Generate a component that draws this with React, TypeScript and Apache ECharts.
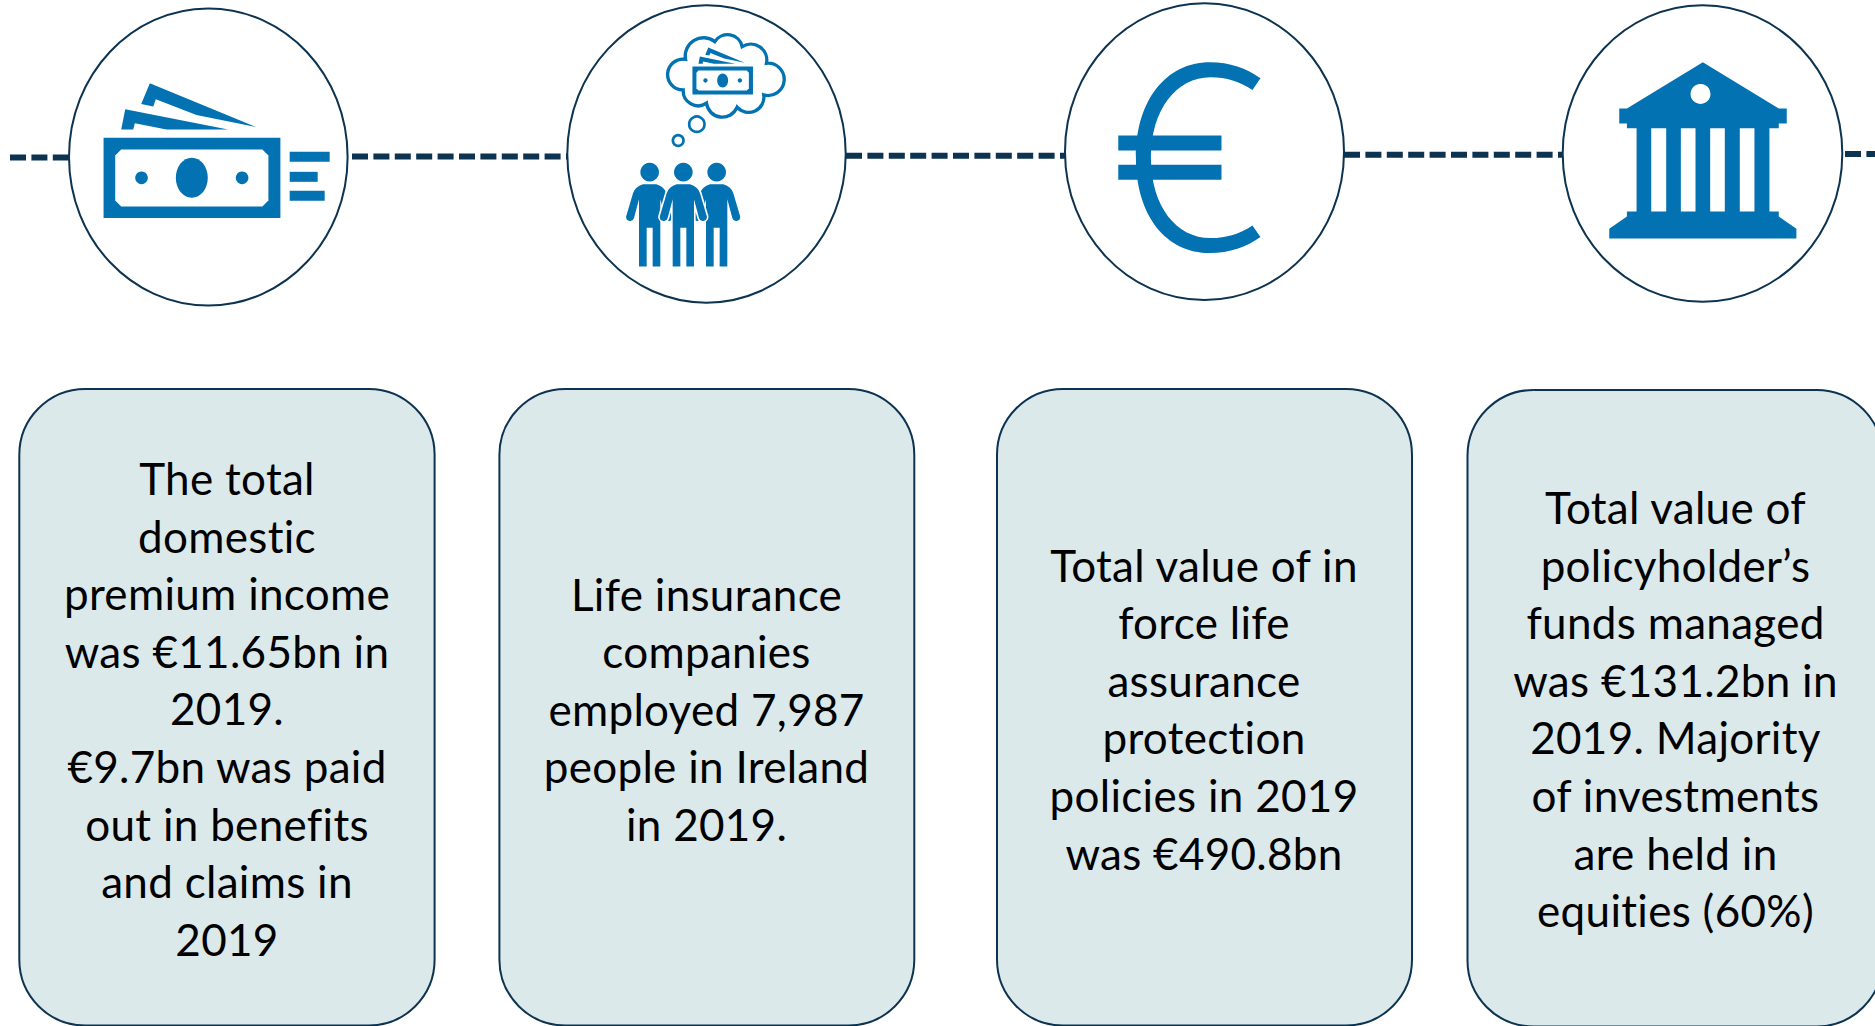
import React, { useEffect, useRef } from "react";
import * as echarts from "echarts";

const INK = "#0c3350";
const BLUE = "#0272b2";
const BOX = "#dce9eb";

const boxTexts = [
  ["The total", "domestic", "premium income", "was €11.65bn in", "2019.", "€9.7bn was paid", "out in benefits", "and claims in", "2019"],
  ["Life insurance", "companies", "employed 7,987", "people in Ireland", "in 2019."],
  ["Total value of in", "force life", "assurance", "protection", "policies in 2019", "was €490.8bn"],
  ["Total value of", "policyholder’s", "funds managed", "was €131.2bn in", "2019. Majority", "of investments", "are held in", "equities (60%)"],
];
const boxFrames = [
  { x: 19.3, y: 389, width: 415.3, height: 636.5, centerX: 227, firstLine: 478 },
  { x: 499.4, y: 389, width: 414.9, height: 636.5, centerX: 706.5, firstLine: 593.5 },
  { x: 997, y: 389, width: 415, height: 636.5, centerX: 1204, firstLine: 564.5 },
  { x: 1467.5, y: 390, width: 415, height: 636.5, centerX: 1675.5, firstLine: 507 },
];
const circles = [
  { cx: 208.3, cy: 157, rx: 139.3, ry: 148.5 },
  { cx: 706.5, cy: 154, rx: 139.2, ry: 148.7 },
  { cx: 1204.5, cy: 151.7, rx: 139.5, ry: 148.4 },
  { cx: 1702.5, cy: 153.5, rx: 139.8, ry: 148.2 },
];
const dashes = [
  [10, 157.5, 69],
  [352, 156.5, 567],
  [846, 155.7, 1065],
  [1344, 154.8, 1563],
  [1845, 154, 1875],
];

const PERSON = "M-32 800L-32 598L-47 655A12 12 0 0 1-70 648L-50 580Q-44 560-20 553L20 553Q44 560 50 580L70 648A12 12 0 0 1 47 655L32 598L32 800L9 800L9 684L-9 684L-9 800Z";
const CLOUD = "M437 178A55 55 0 0 1 525 125A45 45 0 0 1 607 140A48 48 0 0 1 680 190A48.5 48.5 0 1 1 672 285A46 46 0 0 1 592 322A48 48 0 0 1 500 310A45 45 0 0 1 430 270A46.3 46.3 0 1 1 437 178Z";
const EURO = "M662 235C620 205 570 187 510 187C380 187 288 300 288 473C288 650 380 760 510 760C570 760 620 742 662 712L638 677C600 702 560 715 512 715C410 715 333 620 333 473C333 330 410 232 512 232C560 232 600 245 638 270Z";
const BANK = "M489 187L717 326L741 326L741 371L717 371L717 385L689 385L689 635L717 635L717 650L770 687L770 716L208 716L208 687L261 650L261 635L290 635L290 385L261 385L261 371L238 371L238 326L261 326Z";
const NOTE_A = "M450 250L770 382L590 345L468 298L460 320L424 312Z";
const NOTE_B = "M376 328L685 389L500 389L405 370L400 389L364 389Z";

echarts.graphic.registerShape("personShape", echarts.graphic.extendPath(PERSON, {}));
echarts.graphic.registerShape("cloudShape", echarts.graphic.extendPath(CLOUD, {}));
echarts.graphic.registerShape("euroShape", echarts.graphic.extendPath(EURO, {}));
echarts.graphic.registerShape("bankShape", echarts.graphic.extendPath(BANK, {}));
echarts.graphic.registerShape("noteAShape", echarts.graphic.extendPath(NOTE_A, {}));
echarts.graphic.registerShape("noteBShape", echarts.graphic.extendPath(NOTE_B, {}));

const fill = { fill: BLUE };
const white = { fill: "#ffffff" };
const rect = (x: number, y: number, width: number, height: number, style: any = fill) => ({ type: "rect", shape: { x, y, width, height }, style });

// All coordinates of a bank note are in 3x zoomed px of the first icon.
const note = () => [
  { type: "noteAShape", style: fill },
  { type: "noteBShape", style: fill },
  rect(311, 414, 531, 241),
  { type: "polygon", shape: { points: [[364, 449], [788, 449], [806, 467], [806, 602], [788, 620], [364, 620], [346, 602], [346, 467]] }, style: white },
  { type: "ellipse", shape: { cx: 576, cy: 534, rx: 48, ry: 60 }, style: fill },
  { type: "circle", shape: { cx: 425, cy: 534, r: 19 }, style: fill },
  { type: "circle", shape: { cx: 727, cy: 534, r: 19 }, style: fill },
];

const person = (cx: number) => ({
  type: "group",
  x: cx,
  children: [
    { type: "personShape", style: fill },
    { type: "circle", shape: { cx: 0, cy: 517, r: 28 }, style: fill },
  ],
});

function buildGraphic() {
  const out: any[] = [];
  dashes.forEach(([x1, y, x2]) => {
    out.push({ type: "line", shape: { x1, y1: y, x2, y2: y }, style: { stroke: INK, lineWidth: 6, lineDash: [16, 5.4] } });
  });
  circles.forEach((c) => {
    out.push({ type: "ellipse", shape: { cx: c.cx, cy: c.cy, rx: c.rx, ry: c.ry }, style: { fill: "#ffffff", stroke: INK, lineWidth: 2 } });
  });
  // icon 1
  out.push({
    type: "group", scaleX: 1 / 3, scaleY: 1 / 3,
    children: [...note(), rect(870, 456, 120, 30), rect(870, 516, 84, 30), rect(870, 573, 105, 30)],
  });
  // icon 2
  out.push({
    type: "group", x: 540, scaleX: 1 / 3, scaleY: 1 / 3,
    children: [
      { type: "cloudShape", style: { fill: "#ffffff", stroke: BLUE, lineWidth: 10 } },
      { type: "circle", shape: { cx: 471, cy: 373, r: 23 }, style: { fill: "#ffffff", stroke: BLUE, lineWidth: 8 } },
      { type: "circle", shape: { cx: 415, cy: 422, r: 16 }, style: { fill: "#ffffff", stroke: BLUE, lineWidth: 8 } },
      { type: "group", x: 457, y: 200, scaleX: 0.341, scaleY: 0.349, children: [{ type: "group", x: -311, y: -414, children: note() }] },
      person(329),
      person(530),
      { type: "personShape", x: 430, style: { fill: "#ffffff", stroke: "#ffffff", lineWidth: 10 } },
      person(430),
    ],
  });
  // icon 3
  out.push({
    type: "group", x: 1040, scaleX: 1 / 3, scaleY: 1 / 3,
    children: [{ type: "euroShape", style: fill }, rect(235, 407, 310, 45), rect(235, 495, 310, 45)],
  });
  // icon 4
  out.push({
    type: "group", x: 1540, scaleX: 1 / 3, scaleY: 1 / 3,
    children: [
      { type: "bankShape", style: fill },
      rect(334, 385, 45, 250, white), rect(423, 385, 44, 250, white), rect(511, 385, 44, 250, white), rect(600, 385, 44, 250, white),
      { type: "circle", shape: { cx: 482, cy: 282, r: 30 }, style: white },
    ],
  });
  boxFrames.forEach((b, i) => {
    out.push({ type: "rect", shape: { x: b.x, y: b.y, width: b.width, height: b.height, r: 66 }, style: { fill: BOX, stroke: INK, lineWidth: 2 } });
    boxTexts[i].forEach((line, j) => {
      out.push({
        type: "text", x: b.centerX, y: b.firstLine + j * 57.6,
        style: { text: line, fill: "#000000", font: '400 44px Lato', textAlign: "center", textVerticalAlign: "middle" },
      });
    });
  });
  return out;
}

export default function App() {
  const ref = useRef<HTMLDivElement>(null);
  useEffect(() => {
    const chart = echarts.init(ref.current!, undefined, { renderer: "svg" });
    chart.setOption({ animation: false, backgroundColor: "#ffffff", graphic: { elements: buildGraphic() } });
    return () => chart.dispose();
  }, []);
  return <div ref={ref} style={{ position: "fixed", left: 0, top: 0, width: 1875, height: 1026, fontVariantLigatures: "none", letterSpacing: "0.3px" }} />;
}
